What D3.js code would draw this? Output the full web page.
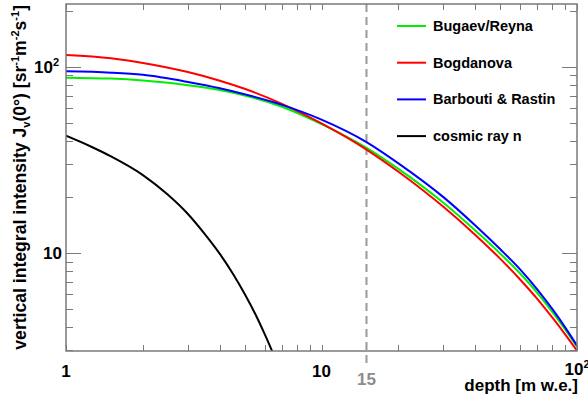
<!DOCTYPE html>
<html><head><meta charset="utf-8">
<script src="https://cdn.jsdelivr.net/npm/d3@7"></script>
<style>
html,body{margin:0;padding:0;background:#fff;}
svg{display:block;font-family:"Liberation Sans",Arial,Helvetica,sans-serif;font-weight:bold;}
</style></head>
<body><svg id="c" width="588" height="396"></svg>
<script>
// depth in m w.e.
const depth = [1, 1.5, 2, 3, 4, 5, 7, 10, 15, 20, 30, 40, 50, 60, 70, 80, 90, 100];
const bugaevReyna = [87.3, 86.3, 84.3, 79.6, 75.0, 70.1, 61.0, 49.2, 36.7, 28.3, 18.6, 13.2, 9.95, 7.74, 6.10, 4.83, 3.88, 3.14];
const bogdanova   = [115.6, 111.0, 104.8, 93.6, 84.1, 76.1, 63.2, 49.6, 35.9, 27.3, 17.7, 12.5, 9.33, 7.19, 5.66, 4.51, 3.65, 2.99];
const barbouti    = [94.4, 92.9, 90.4, 82.8, 76.6, 71.1, 62.4, 52.0, 39.4, 30.3, 19.95, 14.05, 10.5, 8.15, 6.37, 5.01, 3.98, 3.19];
const neutronDepth = [1, 1.25, 1.5, 2, 2.5, 3, 3.5, 4, 4.5, 5, 5.5, 6, 6.5, 7];
const neutron      = [42.6, 37.3, 33.0, 26.2, 20.6, 16.2, 12.6, 9.9, 7.75, 6.05, 4.72, 3.66, 2.84, 2.2];
const seriesNames = ["Bugaev/Reyna", "Bogdanova", "Barbouti & Rastin", "cosmic ray n"];
const seriesColors = ["#00ee00", "#ff0000", "#0000ff", "#000000"];
const xDomain = [1, 100];
const yDomain = [2.98, 217];
const xTickValues = [1, 10, 100];
const xTickLabels = ["1", "10", "10|2"];
const yTickValues = [10, 100];
const yTickLabels = ["10", "10|2"];
const markerDepth = 15;

const svg = d3.select("#c");
const L = 66, T = 4, R = 577, B = 351;
const x = d3.scaleLog().domain(xDomain).range([L, R]);
const y = d3.scaleLog().domain(yDomain).range([B, T]);
const frameCol = "#7a7a7a";

svg.append("defs").append("clipPath").attr("id","clip")
  .append("rect").attr("x",L).attr("y",T).attr("width",R-L).attr("height",B-T);

// ticks
const xt = x.ticks(10);
const yt = y.ticks(10);
const tg = svg.append("g").attr("stroke", frameCol).attr("stroke-width", 1);
xt.forEach(v => {
  const px = Math.round(x(v)) + 0.5;
  tg.append("line").attr("x1",px).attr("x2",px).attr("y1",B).attr("y2",B-6);
  tg.append("line").attr("x1",px).attr("x2",px).attr("y1",T).attr("y2",T+6);
});
yt.forEach(v => {
  const py = Math.round(y(v)) + 0.5;
  const len = yTickValues.includes(v) ? 15 : 7;
  tg.append("line").attr("x1",L).attr("x2",L+len).attr("y1",py).attr("y2",py);
  tg.append("line").attr("x1",R).attr("x2",R-len).attr("y1",py).attr("y2",py);
});

// dashed marker line
svg.append("line").attr("x1",x(markerDepth)).attr("x2",x(markerDepth))
  .attr("y1",T).attr("y2",368)
  .attr("stroke","#999").attr("stroke-width",2).attr("stroke-dasharray","8,5");
svg.append("text").attr("x",x(markerDepth)).attr("y",385).attr("text-anchor","middle")
  .attr("font-size",17).attr("fill","#8c8c8c").text(String(markerDepth));

// curves
const line = d3.line().x(d=>x(d[0])).y(d=>y(d[1])).curve(d3.curveMonotoneX);
const sets = [
  depth.map((d,i)=>[d,bugaevReyna[i]]),
  depth.map((d,i)=>[d,bogdanova[i]]),
  depth.map((d,i)=>[d,barbouti[i]]),
  neutronDepth.map((d,i)=>[d,neutron[i]])
];
const cg = svg.append("g").attr("clip-path","url(#clip)");
[0,1,2,3].forEach(i=>{
  cg.append("path").attr("d",line(sets[i])).attr("fill","none")
    .attr("stroke",seriesColors[i]).attr("stroke-width",2);
});

// frame
svg.append("rect").attr("x",L).attr("y",T).attr("width",R-L).attr("height",B-T)
  .attr("fill","none").attr("stroke",frameCol).attr("stroke-width",1.5);

function lab(g, s, xx, yy, anchor){
  const parts = s.split("|");
  const t = g.append("text").attr("x",xx).attr("y",yy).attr("text-anchor",anchor)
    .attr("font-size",17).attr("fill","#000");
  t.append("tspan").text(parts[0]);
  if(parts[1]) t.append("tspan").attr("dy",-7).attr("font-size",11).text(parts[1]);
}
xTickValues.forEach((v,i)=>{
  const s = xTickLabels[i];
  lab(svg, s, x(v), s.includes("|") ? 375 : 377, "middle");
});
yTickValues.forEach((v,i)=>{
  const s = yTickLabels[i];
  lab(svg, s, s.includes("|") ? 59 : 62, y(v)+6, "end");
});

// axis titles
svg.append("text").attr("x",R+1).attr("y",391).attr("text-anchor","end")
  .attr("font-size",17).text("depth [m w.e.]");
const yt2 = svg.append("text").attr("transform","translate(26,5) rotate(-90)")
  .attr("text-anchor","end").attr("font-size",17.6);
yt2.append("tspan").text("vertical integral intensity J");
yt2.append("tspan").attr("dy",4).attr("font-size",11).text("v");
yt2.append("tspan").attr("dy",-4).text("(0°) [sr");
yt2.append("tspan").attr("dy",-7).attr("font-size",11).text("-1");
yt2.append("tspan").attr("dy",7).text("m");
yt2.append("tspan").attr("dy",-7).attr("font-size",11).text("-2");
yt2.append("tspan").attr("dy",7).text("s");
yt2.append("tspan").attr("dy",-7).attr("font-size",11).text("-1");
yt2.append("tspan").attr("dy",7).text("]");

// legend
const lg = svg.append("g");
seriesNames.forEach((n,i)=>{
  const yy = 26 + i*36.7;
  lg.append("line").attr("x1",397).attr("x2",426).attr("y1",yy).attr("y2",yy)
    .attr("stroke",seriesColors[i]).attr("stroke-width",2);
  lg.append("text").attr("x",433).attr("y",yy+5).attr("font-size",14.5).text(n);
});
</script></body></html>
